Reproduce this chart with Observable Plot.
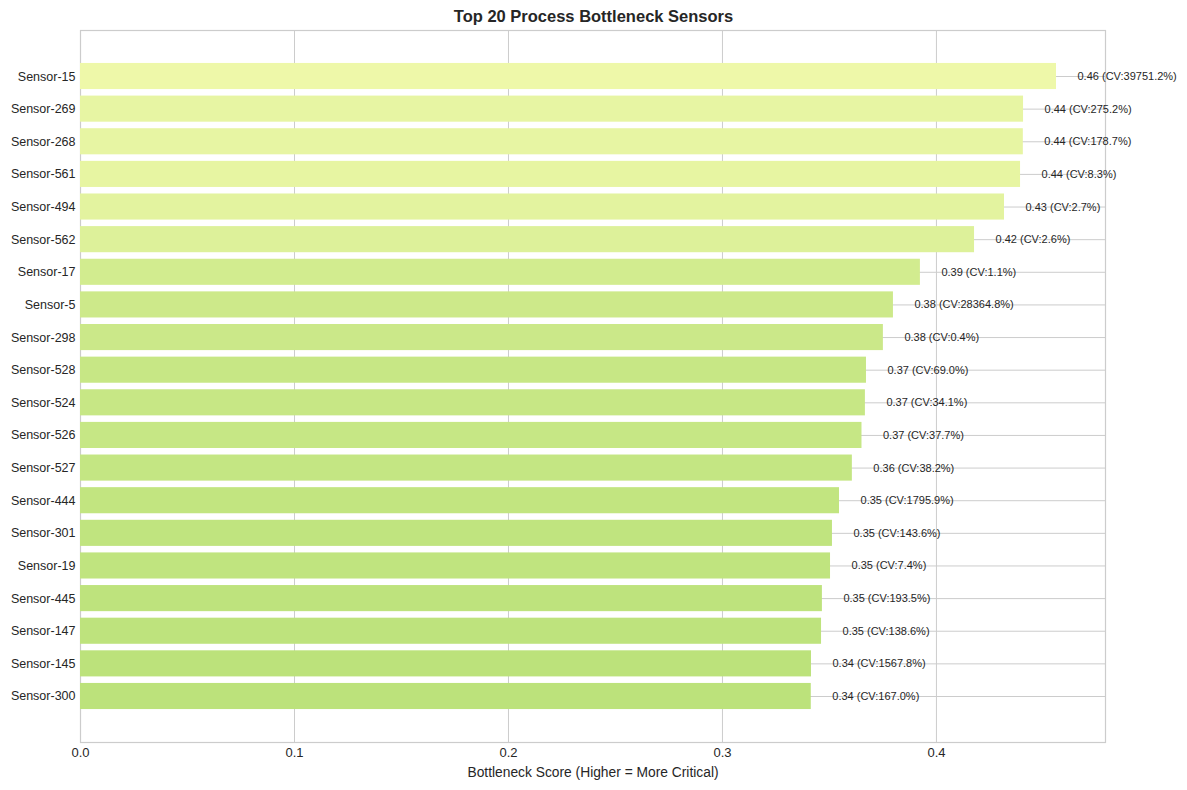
<!DOCTYPE html>
<html>
<head>
<meta charset="utf-8">
<script src="https://cdn.jsdelivr.net/npm/d3@7"></script>
<script src="https://cdn.jsdelivr.net/npm/@observablehq/plot@0.6"></script>
<style>
  body { margin: 0; background: #fff; font-family: "Liberation Sans", Arial, sans-serif; }
  #title { width: 1187px; height: 29px; line-height: 32px; text-align: center; font-weight: bold; font-size: 16.5px; color: #262626; }
</style>
</head>
<body>
<div id="title">Top 20 Process Bottleneck Sensors</div>
<div id="chart"></div>
<script>
// Sensors ranked by bottleneck score (highest first)
const sensors = [
  "Sensor-15", "Sensor-269", "Sensor-268", "Sensor-561", "Sensor-494",
  "Sensor-562", "Sensor-17", "Sensor-5", "Sensor-298", "Sensor-528",
  "Sensor-524", "Sensor-526", "Sensor-527", "Sensor-444", "Sensor-301",
  "Sensor-19", "Sensor-445", "Sensor-147", "Sensor-145", "Sensor-300"
];
const scores = [
  0.4561, 0.4407, 0.4406, 0.4393, 0.4318,
  0.4178, 0.3925, 0.3799, 0.3752, 0.3673,
  0.3668, 0.3652, 0.3607, 0.3547, 0.3514,
  0.3505, 0.3467, 0.3463, 0.3416, 0.3415
];
// Coefficient of variation (%) for each sensor
const cvPercent = [
  39751.2, 275.2, 178.7, 8.3, 2.7,
  2.6, 1.1, 28364.8, 0.4, 69.0,
  34.1, 37.7, 38.2, 1795.9, 143.6,
  7.4, 193.5, 138.6, 1567.8, 167.0
];
const xTicks = [0, 0.1, 0.2, 0.3, 0.4];
const xLabel = "Bottleneck Score (Higher = More Critical)";

const data = sensors.map((s, i) => ({ sensor: s, score: scores[i], cv: cvPercent[i] }));

const chart = Plot.plot({
  width: 1187,
  height: 761,
  marginTop: 1,
  marginBottom: 48,
  marginLeft: 80,
  marginRight: 82,
  style: { fontFamily: "'Liberation Sans', Arial, sans-serif", color: "#262626", background: "#fff" },
  x: { domain: [0, 0.479] },
  y: { domain: sensors, paddingInner: 0.2, paddingOuter: 1.01, round: false },
  color: {
    type: "linear",
    domain: [d3.min(scores), d3.max(scores)],
    range: ["#bce27b", "#eef8a9"]
  },
  marks: [
    Plot.gridX(xTicks, { stroke: "#cccccc", strokeOpacity: 1 }),
    Plot.gridY(sensors, { stroke: "#cccccc", strokeOpacity: 1 }),
    Plot.frame({ stroke: "#cccccc", strokeWidth: 1.2 }),
    Plot.barX(data, { x: "score", y: "sensor", fill: "score" }),
    Plot.text(data, {
      x: "score", y: "sensor",
      text: d => `${d.score.toFixed(2)} (CV:${d.cv.toFixed(1)}%)`,
      textAnchor: "start", dx: 21, fontSize: 11, fill: "#262626"
    }),
    Plot.axisX(xTicks, {
      tickSize: 0, tickPadding: 5, fontSize: 13, tickFormat: d3.format(".1f"), label: null
    }),
    Plot.text([xLabel], {
      frameAnchor: "bottom", dy: 30, fontSize: 13.8, fill: "#262626", lineAnchor: "middle"
    }),
    Plot.axisY({ tickSize: 0, tickPadding: 5, fontSize: 12.5, label: null })
  ]
});
document.getElementById("chart").appendChild(chart);
</script>
</body>
</html>
